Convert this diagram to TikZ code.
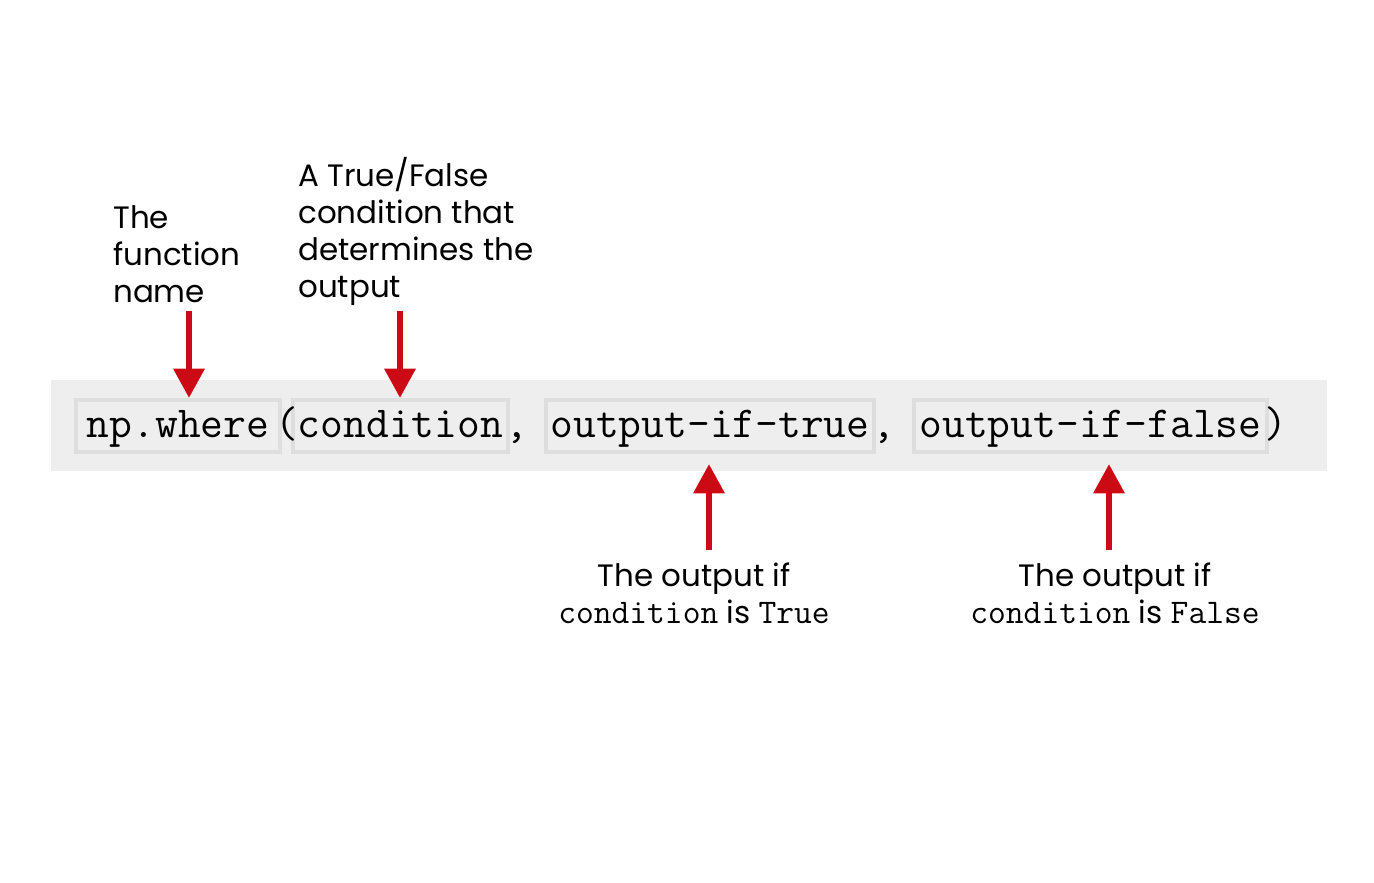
\documentclass[tikz,border=0pt]{standalone}
\usepackage{fontspec}
\setmainfont{Poppins}
\usepackage{xcolor}
\usepackage{tikz}
\usetikzlibrary{arrows.meta, positioning}

\definecolor{codebg}{HTML}{EEEEEE}
\definecolor{codeline}{HTML}{DEDEDE}
\definecolor{pointred}{HTML}{CC0A16}

\begin{document}
\begin{tikzpicture}[
    x=0.75pt, y=-0.75pt,
    codetext/.style={font=\ttfamily\fontsize{33.2pt}{38pt}\selectfont, inner sep=0pt, text height=22.5pt, text depth=6pt},
    codebox/.style={codetext, draw=codeline, line width=3pt, fill=codebg, minimum height=39pt},
    note/.style={font=\fontsize{23.2pt}{27.75pt}\selectfont, inner sep=0pt, align=left, anchor=north west},
    result/.style={font=\fontsize{23.2pt}{27.75pt}\selectfont, inner sep=0pt, align=center, anchor=north},
    pointer/.style={-{Triangle[width=22.5pt, length=22pt]}, line width=4.8pt, draw=pointred}
]
\useasboundingbox (0,0) rectangle (1374,882);

% Code line
\node[fill=codebg, minimum width=957pt, minimum height=68.25pt, inner sep=0pt] (bar) at (689,425.5) {};
\node[codebox, minimum width=153pt] (fnbox) at (178,426) {np.where};
\node[codebox, minimum width=161.25pt] (condbox) at (400.5,426) {condition};
\node[codebox, minimum width=246pt] (truebox) at (710,426) {output-if-true};
\node[codebox, minimum width=264.75pt] (falsebox) at (1090.5,426) {output-if-false};
\node[codetext] (lparen) at (287,426) {(};
\node[codetext] (comma1) at (517,426) {,};
\node[codetext] (comma2) at (884,426) {,};
\node[codetext] (rparen) at (1276,426) {)};

% Notes
\node[note] (fnlbl) at (113,205) {The\\function\\name};
\node[note] (condlbl) at (298,157) {A True/False\\condition that\\determines the\\output};
\node[result] (truelbl) at (694,563) {The output if\\{\ttfamily\fontsize{25.9pt}{27.75pt}\selectfont condition} is {\ttfamily\fontsize{25.9pt}{27.75pt}\selectfont True}};
\node[result] (falselbl) at (1115,563) {The output if\\{\ttfamily\fontsize{25.9pt}{27.75pt}\selectfont condition} is {\ttfamily\fontsize{25.9pt}{27.75pt}\selectfont False}};

% Arrows
\coordinate (fntail) at (189,311);
\coordinate (condtail) at (400,311);
\coordinate (truetail) at (709,550);
\coordinate (falsetail) at (1109,550);
\draw[pointer] (fntail) -- (fntail |- fnbox.north);
\draw[pointer] (condtail) -- (condtail |- condbox.north);
\draw[pointer, shorten >=7.5pt] (truetail) -- (truetail |- truebox.south);
\draw[pointer, shorten >=7.5pt] (falsetail) -- (falsetail |- falsebox.south);

\end{tikzpicture}
\end{document}
